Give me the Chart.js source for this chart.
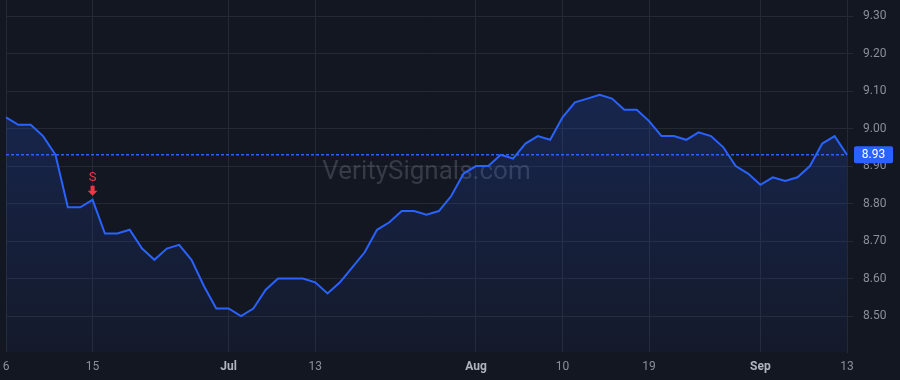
<!DOCTYPE html>
<html>
<head>
<meta charset="utf-8">
<title>VeritySignals</title>
<script src="https://cdn.jsdelivr.net/npm/chart.js@4.4.1/dist/chart.umd.min.js"></script>
<style>
  html, body { margin: 0; padding: 0; background: #131722; }
  #wrap { width: 900px; height: 380px; position: relative; }
</style>
</head>
<body>
<div id="wrap"><canvas id="priceChart"></canvas></div>
<script>
// trading days, Jun 6 -> Sep 13
const dates = [
  'Jun 6', 'Jun 7', 'Jun 8', 'Jun 9', 'Jun 12', 'Jun 13', 'Jun 14', 'Jun 15',
  'Jun 16', 'Jun 20', 'Jun 21', 'Jun 22', 'Jun 23', 'Jun 26', 'Jun 27', 'Jun 28', 'Jun 29', 'Jun 30',
  'Jul 3',
  'Jul 5', 'Jul 6', 'Jul 7', 'Jul 10', 'Jul 11', 'Jul 12', 'Jul 13',
  'Jul 14', 'Jul 17', 'Jul 18', 'Jul 19', 'Jul 20', 'Jul 21', 'Jul 24', 'Jul 25', 'Jul 26', 'Jul 27', 'Jul 28', 'Jul 31',
  'Aug 1',
  'Aug 2', 'Aug 3', 'Aug 4', 'Aug 7', 'Aug 8', 'Aug 9', 'Aug 10',
  'Aug 11', 'Aug 14', 'Aug 15', 'Aug 16', 'Aug 17', 'Aug 18', 'Aug 19',
  'Aug 22', 'Aug 23', 'Aug 24', 'Aug 25', 'Aug 28', 'Aug 29', 'Aug 30', 'Aug 31',
  'Sep 1',
  'Sep 5', 'Sep 6', 'Sep 7', 'Sep 8', 'Sep 11', 'Sep 12', 'Sep 13'
];

const closes = [
  9.03, 9.01, 9.01, 8.98, 8.93, 8.79, 8.79, 8.81,
  8.72, 8.72, 8.73, 8.68, 8.65, 8.68, 8.69, 8.65, 8.58, 8.52,
  8.52,
  8.50, 8.52, 8.57, 8.60, 8.60, 8.60, 8.59,
  8.56, 8.59, 8.63, 8.67, 8.73, 8.75, 8.78, 8.78, 8.77, 8.78, 8.82, 8.88,
  8.90,
  8.90, 8.93, 8.92, 8.96, 8.98, 8.97, 9.03,
  9.07, 9.08, 9.09, 9.08, 9.05, 9.05, 9.02,
  8.98, 8.98, 8.97, 8.99, 8.98, 8.95, 8.90, 8.88,
  8.85,
  8.87, 8.86, 8.87, 8.90, 8.96, 8.98, 8.93
];

const xTickIdx = [0, 7, 18, 25, 38, 45, 52, 61, 68];
const xTickText = ['6', '15', 'Jul', '13', 'Aug', '10', '19', 'Sep', '13'];
const yTicks = [8.5, 8.6, 8.7, 8.8, 8.9, 9.0, 9.1, 9.2, 9.3];
const sellSignals = [7];

const BLUE = '#2962ff';
const RED = '#f23645';
const GRID = '#252935';
const FONT = 'Roboto, "Liberation Sans", sans-serif';

const background = {
  id: 'background',
  beforeDraw(chart) {
    const c = chart.ctx;
    c.save();
    c.fillStyle = '#131722';
    c.fillRect(0, 0, chart.width, chart.height);
    c.restore();
  }
};

const watermark = {
  id: 'watermark',
  beforeDatasetsDraw(chart) {
    const a = chart.chartArea;
    const c = chart.ctx;
    c.save();
    c.font = '26px ' + FONT;
    c.fillStyle = 'rgba(120,126,140,0.34)';
    c.textAlign = 'center';
    c.textBaseline = 'middle';
    c.fillText('VeritySignals.com', (a.left + a.right) / 2, (a.top + a.bottom) / 2 - 4);
    c.restore();
  }
};

const lastPrice = {
  id: 'lastPrice',
  afterDatasetsDraw(chart) {
    const a = chart.chartArea;
    const y = chart.scales.y.getPixelForValue(closes[closes.length - 1]);
    const c = chart.ctx;
    c.save();
    c.strokeStyle = BLUE;
    c.lineWidth = 1.5;
    c.setLineDash([3, 2]);
    c.beginPath();
    c.moveTo(a.left, y);
    c.lineTo(a.right, y);
    c.stroke();
    c.restore();

    // sell markers
    const meta = chart.getDatasetMeta(0);
    sellSignals.forEach(i => {
      const p = meta.data[i];
      const px = p.x, py = p.y;
      c.save();
      c.fillStyle = RED;
      c.beginPath();
      c.moveTo(px - 2, py - 14);
      c.lineTo(px + 2, py - 14);
      c.lineTo(px + 2, py - 9);
      c.lineTo(px + 5, py - 9);
      c.lineTo(px, py - 4);
      c.lineTo(px - 5, py - 9);
      c.lineTo(px - 2, py - 9);
      c.closePath();
      c.fill();
      c.font = '13px ' + FONT;
      c.textAlign = 'center';
      c.textBaseline = 'middle';
      c.fillText('S', px, py - 22);
      c.restore();
    });
  },
  afterDraw(chart) {
    const a = chart.chartArea;
    const v = closes[closes.length - 1];
    const y = chart.scales.y.getPixelForValue(v);
    const c = chart.ctx;
    const x0 = a.right + 7, w = 39, h = 17;
    c.save();
    c.fillStyle = BLUE;
    c.beginPath();
    c.roundRect(x0, y - h / 2, w, h, 2);
    c.fill();
    c.fillStyle = '#ffffff';
    c.font = '12px ' + FONT;
    c.textAlign = 'center';
    c.textBaseline = 'middle';
    c.fillText(v.toFixed(2), x0 + w / 2, y + 0.5);
    c.restore();
  }
};

const ctx = document.getElementById('priceChart').getContext('2d');
new Chart(ctx, {
  type: 'line',
  data: {
    labels: dates,
    datasets: [{
      data: closes,
      borderColor: BLUE,
      borderWidth: 2,
      pointRadius: 0,
      tension: 0,
      fill: 'start',
      backgroundColor(context) {
        const area = context.chart.chartArea;
        if (!area) return 'rgba(41,98,255,0.15)';
        const g = context.chart.ctx.createLinearGradient(0, area.top, 0, area.bottom);
        g.addColorStop(0, 'rgba(41,98,255,0.26)');
        g.addColorStop(1, 'rgba(41,98,255,0.04)');
        return g;
      }
    }]
  },
  options: {
    responsive: true,
    maintainAspectRatio: false,
    animation: false,
    layout: { padding: { left: 6, top: 0, right: 0, bottom: 0 } },
    plugins: {
      legend: { display: false },
      tooltip: { enabled: false }
    },
    scales: {
      x: {
        grid: { color: GRID, drawTicks: false },
        border: { display: false },
        afterBuildTicks(axis) {
          axis.ticks = xTickIdx.map(v => ({ value: v }));
        },
        afterFit(axis) {
          axis.height = 28;
          axis.paddingLeft = 0;
          axis.paddingRight = 0;
        },
        ticks: {
          autoSkip: false,
          maxRotation: 0,
          padding: 8,
          color(c) { return /[A-Za-z]/.test(xTickText[c.index]) ? '#b2b5be' : '#8b8f9a'; },
          font(c) {
            return {
              family: FONT,
              size: 12,
              weight: /[A-Za-z]/.test(xTickText[c.index]) ? 'bold' : 'normal'
            };
          },
          callback(v) {
            const k = xTickIdx.indexOf(v);
            return k >= 0 ? xTickText[k] : '';
          }
        }
      },
      y: {
        position: 'right',
        min: 8.404,
        max: 9.343,
        grid: { color: GRID, tickLength: 6 },
        border: { display: true, color: GRID },
        afterBuildTicks(axis) {
          axis.ticks = yTicks.map(v => ({ value: v }));
        },
        afterFit(axis) {
          axis.width = 53;
          axis.paddingTop = 0;
          axis.paddingBottom = 0;
        },
        ticks: {
          padding: 10,
          color: '#8b8f9a',
          font: { family: FONT, size: 12 },
          callback(v) { return v.toFixed(2); }
        }
      }
    }
  },
  plugins: [background, watermark, lastPrice]
});
</script>
</body>
</html>
